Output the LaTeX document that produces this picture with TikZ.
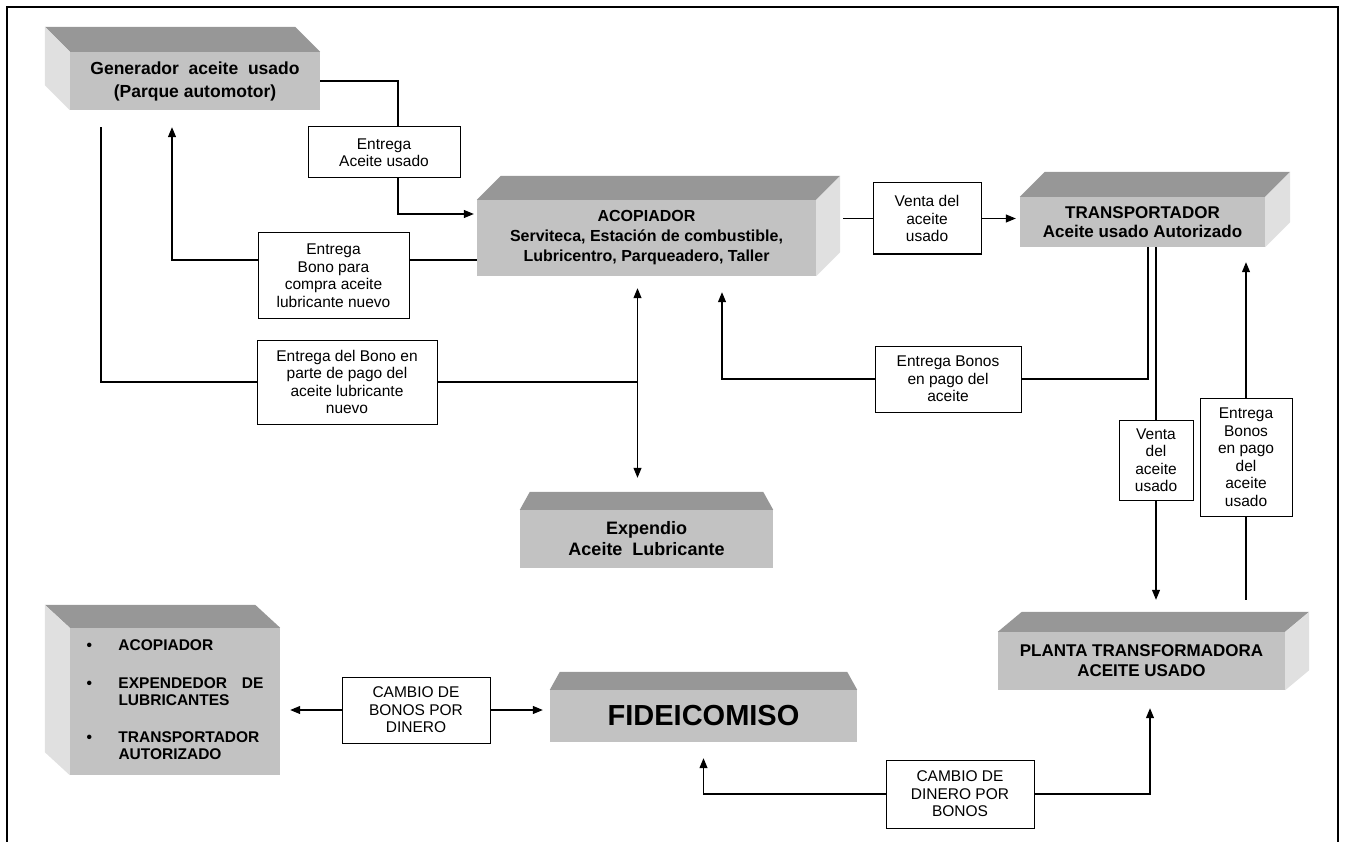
\documentclass[tikz,border=0pt]{standalone}
\usepackage{fontspec}
\setmainfont{Liberation Sans}
\usepackage{tikz}
\usetikzlibrary{calc,
	positioning,
	arrows.meta}

\definecolor{frente}{HTML}{C2C2C2}
\definecolor{tapa}{HTML}{979797}
\definecolor{costado}{HTML}{E0E0E0}

\tikzset{
	bloque/.style={fill=frente, inner sep=0pt, align=center, font=\bfseries\fontsize{16}{20}\selectfont},
	etiqueta/.style={draw, fill=white, line width=1pt, inner sep=0pt, align=center, font=\fontsize{15.5}{17.5}\selectfont},
	flujo/.style={line width=1.1pt},
}

% caras superior y lateral de un bloque
\newcommand{\caras}[4]{%
	\fill[tapa] (#1.north west) -- ++(#3,#4) -- ($(#1.north east)+(#3,#4)$) -- (#1.north east) -- cycle;
	\fill[costado] (#1.north #2) -- ++(#3,#4) -- ($(#1.south #2)+(#3,#4)$) -- (#1.south #2) -- cycle;}
\newcommand{\techo}[3]{%
	\fill[tapa] (#1.north west) -- ++(#2,-#3) -- ($(#1.north east)+(-#2,-#3)$) -- (#1.north east) -- cycle;}

\begin{document}
\begin{tikzpicture}[x=1pt, y=-1pt, >={Triangle[length=10pt,width=8pt]}]
	\useasboundingbox (0,0) rectangle (1348,842);
	\draw[line width=2pt] (7,842) -- (7,7) -- (1338,7) -- (1338,842);

	\node[bloque, minimum width=250pt, minimum height=58pt, font=\bfseries\fontsize{17.5}{23}\selectfont] (gen) at (195,81) {Generador\ \ aceite\ \ usado\\(Parque automotor)};
	\node[bloque, minimum width=339pt, minimum height=76pt] (acop) at (646.5,238) {ACOPIADOR\\Serviteca, Estación de combustible,\\Lubricentro, Parqueadero, Taller};
	\node[bloque, minimum width=245pt, minimum height=50pt, font=\bfseries\fontsize{17}{19}\selectfont] (trans) at (1142.5,222) {TRANSPORTADOR\\Aceite usado Autorizado};
	\node[bloque, minimum width=253pt, minimum height=58pt, font=\bfseries\fontsize{18}{21}\selectfont] (expe) at (646.5,539) {Expendio\\Aceite\ \ Lubricante};
	\node[bloque, minimum width=307pt, minimum height=52pt, font=\bfseries\fontsize{29}{32}\selectfont] (fide) at (703.5,716) {FIDEICOMISO};
	\node[bloque, minimum width=287pt, minimum height=58pt, font=\bfseries\fontsize{17}{20}\selectfont] (planta) at (1141.5,661) {PLANTA TRANSFORMADORA\\ACEITE USADO};
	\node[bloque, minimum width=210pt, minimum height=147pt, font=\bfseries\fontsize{15.5}{17}\selectfont] (lista) at (175,701.5) {%
		\begin{tabular}{@{}p{32pt}@{}p{145pt}@{}}
			\textbullet & ACOPIADOR\\[21pt]
			\textbullet & EXPENDEDOR\hfill DE\\
			& LUBRICANTES\\[20pt]
			\textbullet & TRANSPORTADOR\\
			& AUTORIZADO
		\end{tabular}};

	\caras{gen}{west}{-25}{-25}
	\caras{acop}{east}{24}{-24}
	\caras{trans}{east}{25}{-25}
	\caras{planta}{east}{24}{-20}
	\caras{lista}{west}{-25}{-23}
	\techo{expe}{10}{18}
	\techo{fide}{10}{18}

	\node[etiqueta, minimum width=152pt, minimum height=51pt] (l1) at (384,152.5) {Entrega\\Aceite usado};
	\node[etiqueta, minimum width=151pt, minimum height=85pt] (l2) at (333.5,275.5) {Entrega\\Bono para\\compra aceite\\lubricante nuevo};
	\node[etiqueta, minimum width=180pt, minimum height=84pt] (l3) at (347,382) {Entrega del Bono en\\parte de pago del\\aceite lubricante\\nuevo};
	\node[etiqueta, minimum width=108pt, minimum height=71pt] (l4) at (927,218.5) {Venta del\\aceite\\usado};
	\node[etiqueta, minimum width=146pt, minimum height=66pt] (l5) at (948,379) {Entrega Bonos\\en pago del\\aceite};
	\node[etiqueta, minimum width=74pt, minimum height=80pt] (l6) at (1156,460) {Venta\\del\\aceite\\usado};
	\node[etiqueta, minimum width=92pt, minimum height=118pt] (l7) at (1246,457) {Entrega\\Bonos\\en pago\\del\\aceite\\usado};
	\node[etiqueta, minimum width=148pt, minimum height=66pt] (l8) at (416,710) {CAMBIO DE\\BONOS POR\\DINERO};
	\node[etiqueta, minimum width=148pt, minimum height=68pt] (l9) at (960,794) {CAMBIO DE\\DINERO POR\\BONOS};

	% aceite usado del generador al acopiador
	\draw[flujo] (gen.east) -| ([xshift=14pt]l1.north);
	\draw[flujo, ->, shorten >=3pt] ([xshift=14pt]l1.south) |- ([yshift=24pt]acop.west);

	% bono del acopiador al generador
	\coordinate (b1) at ([yshift=-22pt]acop.west);
	\draw[flujo] (b1) -- (b1 -| l2.east);
	\draw[flujo, ->] (b1 -| l2.west) -| ([xshift=-23pt, yshift=-17pt]gen.south);

	% bono del generador al expendio
	\coordinate (v1) at ([xshift=-9pt, yshift=-12pt]acop.south);
	\coordinate (v2) at ([xshift=-9pt, yshift=32pt]expe.north);
	\draw[flujo] ([xshift=-94pt, yshift=-17pt]gen.south) |- (l3.west);
	\draw[flujo] (l3.east) -- (l3.east -| v1);
	\draw[flujo, <->] (v1) -- (v2);

	% acopiador y transportador
	\coordinate (c1) at ([xshift=27pt]acop.east);
	\draw[flujo] (c1 |- l4.west) -- (l4.west);
	\draw[flujo, ->, shorten >=4pt] (l4.east) -- (l4.east -| trans.west);
	\draw[flujo] ([xshift=5.5pt]trans.south) |- (l5.east);
	\draw[flujo, ->] (l5.west) -| ([xshift=75.5pt, yshift=-16pt]acop.south);

	% transportador y planta
	\draw[flujo] ([xshift=13.5pt]trans.south) -- (l6.north);
	\draw[flujo, ->, shorten >=32pt] (l6.south) -- (l6.south |- planta.north);
	\draw[flujo, shorten <=32pt] (l7.south |- planta.north) -- (l7.south);
	\draw[flujo, ->, shorten >=15pt] (l7.north) -- (l7.north |- trans.south);

	% fideicomiso
	\draw[flujo, ->, shorten >=10pt] (l8.west) -- (l8.west -| lista.east);
	\draw[flujo, ->, shorten >=7pt] (l8.east) -- (l8.east -| fide.west);
	\draw[flujo, ->, shorten >=16pt] (l9.west) -| (fide.south);
	\draw[flujo, ->, shorten >=18pt] (l9.east) -| ([xshift=8.5pt]planta.south);
\end{tikzpicture}
\end{document}
